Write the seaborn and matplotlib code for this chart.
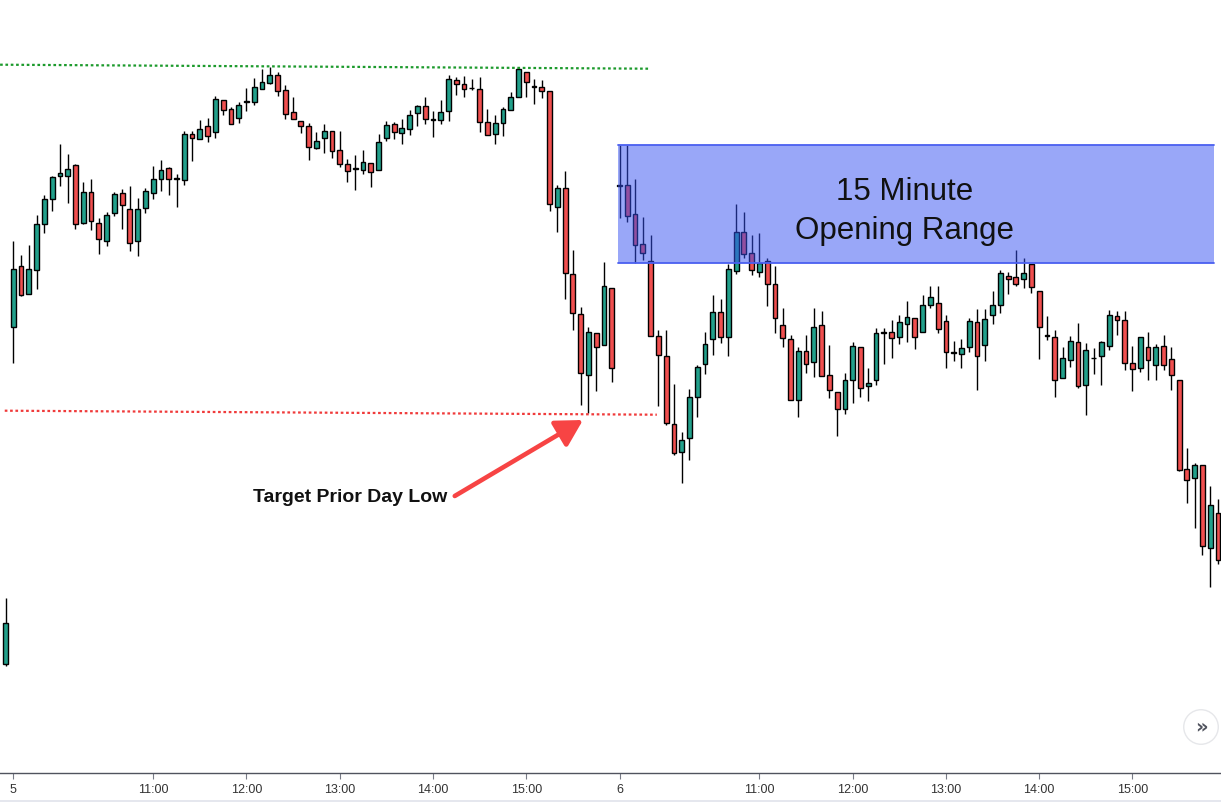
import numpy as np
import matplotlib
matplotlib.use("Agg")
import matplotlib.pyplot as plt
from matplotlib.lines import Line2D
import seaborn as sns

# 5-minute candles (price units), last bar of day 4, then days 5 and 6
prev_open, prev_high, prev_low, prev_close = [135.7], [201.7], [134.0], [176.7]

day5_open = [473.3, 533.7, 506.3, 529.7, 575.7, 600.7, 624.3, 624.3, 635.0, 576.7,
             607.7, 576.7, 559.3, 587.3, 606.7, 590.7, 559.3, 591.7, 606.7, 620.7,
             631.7, 621.3, 619.7, 665.7, 660.7, 673.7, 667.7, 699.7, 690.7, 681.7,
             698.3, 697.7, 710.7, 716.7, 724.7, 709.7, 687.7, 678.7, 673.7, 652.3,
             661.7, 669.0, 650.0, 635.7, 631.0, 630.0, 636.7, 629.7, 661.7, 675.7,
             666.7, 670.7, 686.7, 693.7, 680.3, 679.7, 688.7, 719.7, 715.7, 711.7,
             710.7, 677.7, 665.7, 676.7, 689.7, 702.7, 727.7, 713.3, 712.7, 708.7,
             592.7, 611.7, 525.7, 485.7, 424.7, 466.7, 454.7, 511.7]
day5_high = [559.0, 545.0, 555.0, 585.0, 605.0, 624.0, 656.0, 646.0, 635.7, 617.7,
             621.0, 581.7, 587.7, 607.7, 611.0, 614.0, 602.0, 612.0, 634.0, 640.0,
             633.3, 626.0, 669.0, 669.0, 680.0, 681.7, 704.0, 699.7, 693.3, 697.7,
             712.3, 722.0, 731.0, 733.3, 727.7, 714.7, 702.7, 678.7, 676.7, 668.0,
             676.0, 669.0, 669.0, 641.0, 644.7, 650.0, 636.7, 666.0, 679.0, 678.0,
             680.7, 689.7, 694.7, 703.0, 688.7, 699.7, 725.0, 722.7, 724.0, 721.0,
             722.7, 690.7, 684.7, 692.7, 707.7, 733.3, 727.7, 720.7, 719.7, 708.7,
             614.7, 628.7, 550.0, 492.7, 472.7, 466.7, 538.0, 511.7]
day5_low = [437.3, 504.3, 505.7, 511.0, 567.3, 589.3, 614.3, 597.3, 570.7, 575.7,
            570.0, 546.3, 554.3, 584.0, 571.0, 549.3, 544.3, 586.7, 601.3, 609.3,
            605.0, 593.3, 615.0, 639.3, 660.7, 658.3, 662.3, 685.0, 675.7, 677.3,
            689.0, 694.7, 710.7, 715.7, 703.7, 680.7, 680.7, 666.7, 639.7, 651.3,
            647.3, 642.3, 632.7, 617.7, 609.7, 626.0, 613.3, 629.7, 659.3, 660.7,
            656.3, 664.7, 673.7, 675.7, 663.3, 675.7, 678.7, 704.7, 702.7, 709.7,
            667.7, 664.7, 655.7, 663.7, 689.7, 702.7, 702.7, 695.7, 701.7, 589.3,
            567.7, 500.7, 469.7, 394.7, 387.3, 408.7, 454.7, 417.7]
day5_close = [530.7, 505.0, 530.7, 576.0, 600.7, 623.0, 626.7, 631.0, 575.7, 607.7,
              578.7, 560.7, 584.7, 606.0, 594.7, 556.7, 590.7, 608.7, 620.7, 629.7,
              620.7, 621.3, 665.7, 662.3, 670.7, 663.7, 700.7, 689.7, 675.7, 694.7,
              698.3, 712.7, 717.7, 724.7, 708.7, 685.7, 680.7, 673.7, 652.7, 659.0,
              669.0, 648.7, 636.0, 628.7, 631.0, 637.7, 627.7, 657.7, 674.7, 667.7,
              671.7, 684.7, 693.7, 680.7, 680.3, 687.7, 720.7, 715.7, 710.7, 711.7,
              677.7, 664.7, 676.7, 690.7, 702.7, 730.7, 717.7, 713.3, 708.7, 595.7,
              611.7, 526.7, 486.7, 426.7, 467.7, 452.7, 513.7, 431.7]

day6_open = [614.3, 615.0, 585.7, 555.7, 538.7, 463.7, 443.7, 375.7, 347.7, 361.7,
             402.7, 435.7, 460.7, 487.7, 462.7, 528.7, 567.7, 546.7, 527.7, 538.7,
             515.7, 474.7, 460.7, 399.7, 448.7, 437.7, 474.7, 424.7, 407.7, 390.7,
             419.7, 452.7, 413.7, 419.7, 467.3, 467.7, 462.7, 475.7, 481.7, 467.7,
             494.7, 496.7, 478.7, 447.0, 445.7, 452.7, 477.7, 454.7, 484.7, 494.7,
             523.7, 522.7, 520.7, 535.7, 508.7, 464.3, 462.7, 421.7, 439.7, 457.7,
             414.7, 441.7, 443.7, 453.7, 483.7, 479.7, 436.7, 431.7, 452.7, 434.7,
             453.7, 440.7, 419.7, 330.7, 321.7, 334.7, 251.7, 286.7]
day6_high = [655.0, 655.0, 620.7, 582.7, 564.7, 469.7, 469.7, 415.7, 367.7, 410.7,
             434.7, 467.7, 504.7, 500.7, 535.7, 595.7, 587.7, 564.7, 566.7, 541.7,
             533.7, 491.7, 464.7, 452.7, 464.7, 491.7, 488.7, 454.7, 407.7, 426.7,
             457.7, 452.7, 431.7, 471.7, 471.7, 480.0, 484.7, 498.7, 481.7, 504.7,
             513.7, 513.7, 484.7, 458.7, 460.7, 481.7, 490.7, 490.7, 508.7, 529.7,
             527.7, 549.7, 541.7, 535.7, 508.7, 483.7, 469.7, 452.7, 463.7, 476.7,
             456.7, 451.7, 458.7, 489.7, 488.7, 488.7, 453.7, 462.7, 467.7, 455.7,
             464.7, 452.7, 419.7, 351.7, 336.7, 334.7, 313.7, 300.7]
day6_low = [581.7, 578.3, 536.7, 539.7, 463.7, 393.7, 374.7, 344.7, 316.7, 339.7,
            382.7, 425.7, 444.7, 456.7, 443.7, 525.7, 541.7, 524.7, 522.7, 493.7,
            466.7, 452.7, 399.7, 382.7, 426.7, 422.7, 423.7, 401.7, 363.7, 385.7,
            396.7, 402.7, 398.7, 414.7, 436.5, 442.3, 456.3, 458.3, 451.3, 467.7,
            491.7, 466.7, 431.7, 438.7, 431.7, 447.7, 409.7, 438.7, 475.7, 486.7,
            505.7, 513.7, 511.7, 506.7, 440.7, 459.7, 402.7, 421.7, 432.7, 411.7,
            384.7, 425.7, 414.7, 449.7, 464.7, 429.7, 408.7, 427.7, 419.7, 419.7,
            429.7, 409.7, 328.7, 296.7, 271.7, 244.7, 212.7, 235.7]
day6_close = [614.3, 583.7, 554.7, 546.7, 463.7, 444.7, 376.7, 346.7, 359.7, 402.7,
              432.7, 455.7, 487.7, 462.7, 530.7, 567.7, 545.7, 529.7, 536.7, 515.7,
              481.7, 461.7, 399.7, 448.7, 435.7, 472.7, 423.7, 409.7, 390.7, 419.7,
              453.7, 411.7, 416.7, 466.7, 467.3, 461.7, 477.7, 482.7, 462.7, 494.7,
              502.7, 470.7, 447.7, 447.0, 451.7, 478.7, 443.7, 480.7, 494.7, 526.7,
              520.7, 515.7, 526.7, 512.7, 472.7, 464.3, 419.7, 441.7, 458.7, 413.7,
              449.7, 441.7, 457.7, 484.7, 479.7, 436.7, 430.7, 462.7, 439.7, 452.7,
              434.7, 424.7, 329.7, 319.7, 334.7, 253.7, 294.7, 239.7]

day_labels = ["5", "6"]
hour_labels = ["11:00", "12:00", "13:00", "14:00", "15:00"]

UP = "#22a08b"
DOWN = "#f04f4f"

sns.set_theme(style="white")
plt.rcParams["font.family"] = ["Liberation Sans", "DejaVu Sans"]

o = np.array(prev_open + day5_open + day6_open)
h = np.array(prev_high + day5_high + day6_high)
l = np.array(prev_low + day5_low + day6_low)
c = np.array(prev_close + day5_close + day6_close)
x = np.arange(len(o))
day5_start = len(prev_open)
day6_start = day5_start + len(day5_open)

fig = plt.figure(figsize=(12.21, 8.02), dpi=100)
ax = fig.add_axes([0, 29 / 802, 1, 773 / 802])

# wicks + bodies
ax.vlines(x, l, h, color="black", linewidth=1.0, zorder=2)
body = np.where(np.abs(c - o) < 0.8, 0.8, c - o)
colors = np.where(c >= o, UP, DOWN)
ax.bar(x, body, bottom=o, width=0.62, color=colors, edgecolor="black",
       linewidth=1.0, zorder=3)

# prior day high / low from day 5
prior_high = max(day5_high)
prior_low = min(day5_low)
ax.plot([-0.7, 82.9], [prior_high + 2, prior_high - 2], color="#1c9a2c",
        linewidth=1.6, linestyle=(0, (1.2, 1.2)), zorder=4)
ax.plot([-0.1, 83.8], [prior_low + 2, prior_low - 2], color="#f03a3a",
        linewidth=1.6, linestyle=(0, (1.2, 1.2)), zorder=4)

# 15 minute opening range (first three bars of day 6)
or_high = max(day6_high[:3])
or_low = min(day6_low[:3])
x0, x1 = day6_start - 0.25, 155.5
ax.fill_between([x0, x1], or_low, or_high, color="#3550f2", alpha=0.5,
                linewidth=0, zorder=5)
ax.plot([x0, x1], [or_high, or_high], color="#4a5ff0", linewidth=1.3, zorder=6)
ax.plot([x0, x1], [or_low, or_low], color="#4a5ff0", linewidth=1.3, zorder=6)
ax.text(115.7, (or_high + or_low) / 2 - 7, "15 Minute\nOpening Range",
        ha="center", va="center", fontsize=22.5, color="#111111",
        linespacing=1.38, zorder=7)

ax.text(31.85, 303, "Target Prior Day Low", ha="left", va="center",
        fontsize=14, fontweight="bold", color="#111111", zorder=7)
ax.annotate("", xy=(74.3, 380), xytext=(57.8, 304),
            arrowprops=dict(arrowstyle="-|>,head_length=0.8,head_width=0.45",
                            color="#f74444", lw=3.3, mutation_scale=20,
                            capstyle="round", shrinkA=0, shrinkB=0), zorder=7)

# scroll button bottom right
ax.text(1201 / 7.772 - 0.711, 800 - 727, "»", ha="center", va="center",
        fontsize=14, fontweight="bold", color="#50535e",
        family=["DejaVu Sans"], zorder=8,
        bbox=dict(boxstyle="circle,pad=0.4", facecolor="white",
                  edgecolor="#e6e7ea", linewidth=1.0))

# session time axis: day marks at session open, hours from 11:00
ticks, labels = [], []
for start, dl in zip([day5_start, day6_start], day_labels):
    ticks.append(start)
    labels.append(dl)
    for k, hl in enumerate(hour_labels):
        ticks.append(start + 18 + 12 * k)
        labels.append(hl)
ax.set_xticks(ticks)
ax.set_xticklabels(labels)
ax.set_yticks([])
ax.set_xlim(-0.711, 156.39)
ax.set_ylim(27, 800)

sns.despine(ax=ax, left=True, top=True, right=True)
ax.spines["bottom"].set_color("#50535e")
ax.spines["bottom"].set_linewidth(1.0)
ax.tick_params(axis="x", which="both", bottom=True, length=4, width=0.8,
               color="#787b86", direction="out", pad=4, labelsize=9,
               labelcolor="#333333")
ax.grid(False)

fig.add_artist(Line2D([0, 1], [1.5 / 802, 1.5 / 802], color="#e0e3eb",
                      linewidth=1.2, transform=fig.transFigure))

fig.savefig("out.png", dpi=100, facecolor="white")
